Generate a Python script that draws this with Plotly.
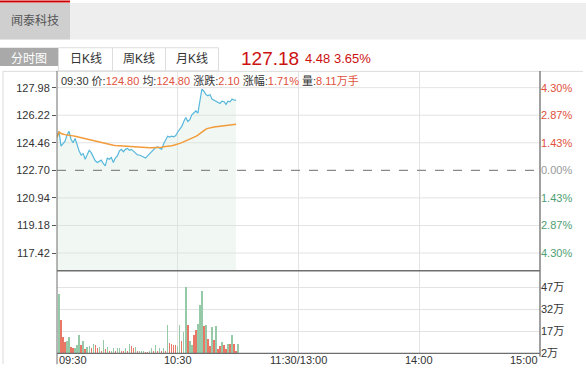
import plotly.graph_objects as go

W, H = 586, 387

# ---------------- data ----------------
stock_name = "闻泰科技"
tabs = ["分时图", "日K线", "周K线", "月K线"]
last_price = "127.18"
change = "4.48"
change_pct = "3.65%"
prev_close = 122.70

# minute-by-minute price from 09:30 (index 0)
price = [124.88, 125.19, 124.25, 124.40, 124.56, 124.98, 125.19, 124.67, 124.46, 124.73,
         124.25, 123.94, 123.68, 123.77, 123.41, 123.68, 123.98, 123.83, 123.52, 123.31,
         123.20, 123.25, 123.35, 123.14, 122.99, 123.48, 123.41, 123.52, 123.20, 123.48,
         123.62, 123.94, 124.04, 123.89, 124.04, 124.10, 123.98, 124.04, 123.94, 123.83,
         123.68, 123.68, 123.60, 123.56, 123.48, 123.62, 123.77, 123.89, 124.04, 124.15,
         124.19, 124.10, 124.04, 124.40, 124.67, 124.88, 124.82, 124.88, 124.84, 124.92,
         125.15, 125.30, 125.51, 125.82, 126.07, 125.82, 125.93, 126.24, 126.35, 126.49,
         126.35, 127.18, 127.88, 127.75, 127.54, 127.46, 127.54, 127.25, 127.18, 127.12,
         127.08, 126.97, 127.12, 127.08, 126.91, 127.12, 127.08, 127.25, 127.18, 127.18]

avg_price = [124.80, 125.15, 125.05, 125.00, 124.98, 124.96, 124.95, 124.93, 124.90, 124.87,
             124.84, 124.80, 124.77, 124.74, 124.70, 124.67, 124.64, 124.61, 124.58, 124.55,
             124.50, 124.47, 124.44, 124.41, 124.38, 124.36, 124.34, 124.32, 124.30, 124.28,
             124.27, 124.26, 124.25, 124.25, 124.24, 124.23, 124.22, 124.21, 124.20, 124.19,
             124.18, 124.17, 124.16, 124.16, 124.15, 124.15, 124.15, 124.15, 124.15, 124.15,
             124.16, 124.17, 124.18, 124.20, 124.21, 124.23, 124.25, 124.27, 124.30, 124.33,
             124.37, 124.42, 124.47, 124.52, 124.57, 124.62, 124.68, 124.74, 124.80, 124.87,
             124.95, 125.05, 125.15, 125.25, 125.33, 125.38, 125.42, 125.45, 125.47, 125.49,
             125.51, 125.52, 125.54, 125.55, 125.56, 125.58, 125.60, 125.62, 125.63, 125.65]

# volume per minute (万手), and direction (1 = up/red, 0 = down/green)
volume = [42.7, 24.8, 13.0, 9.6, 10.7, 13.0, 6.3, 5.4, 5.4, 8.0,
          14.8, 7.6, 10.3, 4.7, 6.3, 6.9, 5.4, 8.5, 7.6, 5.8,
          6.3, 4.0, 11.4, 4.7, 6.3, 3.6, 4.0, 5.8, 4.0, 5.8,
          5.4, 4.0, 4.0, 5.4, 3.6, 8.5, 6.9, 5.8, 6.3, 4.0,
          3.6, 3.6, 3.6, 3.1, 3.1, 3.6, 5.4, 4.0, 8.0, 4.0,
          5.4, 4.0, 5.4, 4.0, 21.5, 9.2, 8.7, 8.0, 7.6, 6.9,
          21.5, 10.7, 16.5, 47.2, 21.5, 10.3, 8.0, 14.8, 18.1, 21.9,
          34.9, 44.3, 21.0, 21.5, 12.1, 6.9, 20.3, 11.4, 21.0, 4.7,
          6.9, 9.8, 7.6, 4.7, 8.5, 8.5, 14.8, 8.5, 4.0, 8.5]
direction = [0, 1, 1, 1, 0, 0, 1, 1, 0, 0,
             0, 1, 0, 1, 0, 0, 1, 0, 1, 1,
             0, 1, 0, 1, 0, 1, 0, 0, 1, 0,
             0, 1, 1, 0, 1, 0, 1, 1, 0, 1,
             0, 0, 0, 1, 1, 0, 0, 1, 0, 1,
             0, 1, 0, 1, 0, 1, 1, 1, 1, 0,
             0, 1, 0, 0, 1, 0, 0, 1, 1, 0,
             0, 0, 1, 0, 1, 1, 0, 1, 0, 1,
             1, 0, 1, 1, 0, 1, 0, 1, 1, 0]

price_ticks = [117.42, 119.18, 120.94, 122.70, 124.46, 126.22, 127.98]
pct_labels = ["4.30%", "2.87%", "1.43%", "0.00%", "1.43%", "2.87%", "4.30%"]
vol_ticks = [2, 17, 32, 47]
vol_labels = ["2万", "17万", "32万", "47万"]
time_ticks = [0, 60, 120, 180, 240]
time_labels = ["09:30", "10:30", "11:30/13:00", "14:00", "15:00"]

stats = [("09:30", None), ("价:", "124.80"), ("均:", "124.80"), ("涨跌:", "2.10"),
         ("涨幅:", "1.71%"), ("量:", "8.11万手")]

# ---------------- styling ----------------
RED = "#e0503c"
GREEN = "#4f9e74"
GRAY_TXT = "#333333"
FONT = "Liberation Sans, Noto Sans CJK SC, sans-serif"

def px(x):
    return x / W

def py(y):
    return 1 - y / H

minutes = list(range(len(price)))
bar_x = [m + 1 for m in minutes]
bar_colors = ["#ea7766" if d else "#95c9a8" for d in direction]

fig = go.Figure()

fig.add_trace(go.Scatter(x=minutes, y=price, mode="lines", fill="tozeroy",
                         fillcolor="rgba(212,234,218,0.33)",
                         line=dict(color="#58b8dc", width=1.2), hoverinfo="skip",
                         xaxis="x", yaxis="y"))
fig.add_trace(go.Scatter(x=minutes, y=avg_price, mode="lines",
                         line=dict(color="#f29b3a", width=1.5), hoverinfo="skip",
                         xaxis="x", yaxis="y"))
fig.add_trace(go.Bar(x=bar_x, y=volume, marker=dict(color=bar_colors, line=dict(width=0)),
                     width=0.7, hoverinfo="skip", xaxis="x2", yaxis="y2"))

x_dom = [px(57), px(540)]
main_dom = [py(275), py(72)]
vol_dom = [py(359), py(275)]
p_range = [116.29, 129.05]

shapes = []
# top tab band
shapes.append(dict(type="rect", xref="paper", yref="paper", x0=0, x1=1, y0=py(40), y1=py(3),
                   fillcolor="#eeeeee", line=dict(width=0), layer="below"))
shapes.append(dict(type="rect", xref="paper", yref="paper", x0=0, x1=px(70), y0=py(40), y1=py(3),
                   fillcolor="#cfcfcf", line=dict(width=0), layer="below"))
shapes.append(dict(type="rect", xref="paper", yref="paper", x0=0, x1=px(70), y0=py(2.5), y1=py(0.5),
                   fillcolor="#cc0000", line=dict(width=0), layer="below"))
# tabs
tab_edges = [(0, 58), (58.5, 112.5), (112.5, 165.5), (165.5, 218.5)]
for i, (a, b) in enumerate(tab_edges):
    if i == 0:
        shapes.append(dict(type="rect", xref="paper", yref="paper", x0=px(a), x1=px(b),
                           y0=py(67), y1=py(48.5), fillcolor="#a9a9a9", line=dict(width=0),
                           layer="below"))
    else:
        shapes.append(dict(type="rect", xref="paper", yref="paper", x0=px(a), x1=px(b),
                           y0=py(72), y1=py(48.5), fillcolor="#ffffff",
                           line=dict(width=1, color="#dddddd"), layer="below"))
# horizontal price gridlines (except the prev close dashed one)
for t in price_ticks:
    if abs(t - prev_close) > 1e-6:
        shapes.append(dict(type="line", xref="x", yref="y", x0=0, x1=240, y0=t, y1=t,
                           line=dict(color="#e3e3e3", width=1), layer="below"))
shapes.append(dict(type="line", xref="x", yref="y", x0=0, x1=240, y0=prev_close, y1=prev_close,
                   line=dict(color="#8a8a8a", width=1.2, dash="dash"), layer="above"))
# frame lines
shapes.append(dict(type="line", xref="paper", yref="paper", x0=px(3), x1=px(583), y0=py(72.5), y1=py(72.5),
                   line=dict(color="#dcdcdc", width=1)))
shapes.append(dict(type="line", xref="paper", yref="paper", x0=px(3), x1=px(3), y0=py(72), y1=py(370),
                   line=dict(color="#dcdcdc", width=1)))
shapes.append(dict(type="line", xref="paper", yref="paper", x0=px(57), x1=px(57), y0=py(72), y1=py(370),
                   line=dict(color="#6e6e6e", width=1)))
shapes.append(dict(type="line", xref="paper", yref="paper", x0=px(540), x1=px(540), y0=py(72), y1=py(362),
                   line=dict(color="#6e6e6e", width=1.3)))
shapes.append(dict(type="line", xref="paper", yref="paper", x0=px(57), x1=px(540), y0=py(275), y1=py(275),
                   line=dict(color="#6e6e6e", width=1.3)))
shapes.append(dict(type="line", xref="paper", yref="paper", x0=px(57), x1=px(540), y0=py(359), y1=py(359),
                   line=dict(color="#6e6e6e", width=1.3)))

annotations = []
annotations.append(dict(xref="paper", yref="paper", x=px(35), y=py(21), text=stock_name,
                        showarrow=False, font=dict(size=12, color="#555555", family=FONT),
                        xanchor="center", yanchor="middle"))
tab_centers = [29, 85.5, 139, 192]
for i, (t, c) in enumerate(zip(tabs, tab_centers)):
    annotations.append(dict(xref="paper", yref="paper", x=px(c), y=py(60), text=t,
                            showarrow=False,
                            font=dict(size=12, color="#ffffff" if i == 0 else "#333333", family=FONT),
                            xanchor="center", yanchor="middle"))
annotations.append(dict(xref="paper", yref="paper", x=px(239), y=py(59), text=last_price,
                        showarrow=False, font=dict(size=19, color="#cc1111", family=FONT),
                        xanchor="left", yanchor="middle"))
annotations.append(dict(xref="paper", yref="paper", x=px(303), y=py(59),
                        text=f"{change} {change_pct}", showarrow=False,
                        font=dict(size=13, color="#cc1111", family=FONT),
                        xanchor="left", yanchor="middle"))
stat_parts = []
for lab, val in stats:
    if val is None:
        stat_parts.append(f"<span style='color:{GRAY_TXT}'>{lab}</span>")
    else:
        stat_parts.append(f"<span style='color:{GRAY_TXT}'>{lab}</span><span style='color:{RED}'>{val}</span>")
annotations.append(dict(xref="paper", yref="paper", x=px(59), y=py(82),
                        text=" ".join(stat_parts), showarrow=False,
                        font=dict(size=11, family=FONT), xanchor="left", yanchor="middle"))
# time labels
anchors = ["left", "center", "center", "center", "right"]
for t, lab, a in zip(time_ticks, time_labels, anchors):
    annotations.append(dict(xref="x2", yref="paper", x=t, y=py(366), text=lab, showarrow=False,
                            font=dict(size=11, color=GRAY_TXT, family=FONT),
                            xanchor=a, yanchor="middle"))

pct_text = []
for t, lab in zip(price_ticks, pct_labels):
    if t > prev_close + 1e-6:
        col = RED
    elif t < prev_close - 1e-6:
        col = GREEN
    else:
        col = "#999999"
    pct_text.append(f"<span style='color:{col}'>{lab}</span>")

fig.update_layout(
    width=W, height=H, autosize=False,
    margin=dict(l=0, r=0, t=0, b=0),
    paper_bgcolor="#ffffff", plot_bgcolor="rgba(0,0,0,0)",
    showlegend=False, bargap=0,
    font=dict(family=FONT, size=11, color=GRAY_TXT),
    xaxis=dict(domain=x_dom, range=[0, 240], anchor="y", tickvals=[60, 120, 180],
               showticklabels=False, showgrid=True, gridcolor="#e3e3e3", gridwidth=1,
               zeroline=False, showline=False, ticks=""),
    xaxis2=dict(domain=x_dom, range=[0, 240], anchor="y2", tickvals=[60, 120, 180],
                showticklabels=False, showgrid=True, gridcolor="#e3e3e3", gridwidth=1,
                zeroline=False, showline=False, ticks=""),
    yaxis=dict(domain=main_dom, range=p_range, anchor="x", tickvals=price_ticks,
               ticktext=[f"{t:.2f}" for t in price_ticks], showgrid=False, zeroline=False,
               showline=False, ticks="outside", ticklen=4, tickcolor="#555555",
               tickfont=dict(size=11, color=GRAY_TXT, family=FONT)),
    yaxis3=dict(overlaying="y", side="right", range=p_range, anchor="x", tickvals=price_ticks,
                ticktext=pct_text, showgrid=False, zeroline=False, showline=False, ticks="",
                tickfont=dict(size=11, family=FONT)),
    yaxis2=dict(domain=vol_dom, range=[2, 58.4], anchor="x2", side="right", tickvals=vol_ticks,
                ticktext=vol_labels, showgrid=True, gridcolor="#e3e3e3", zeroline=False,
                showline=False, ticks="", tickfont=dict(size=11, color=GRAY_TXT, family=FONT)),
    shapes=shapes, annotations=annotations,
)
# invisible point so the percent axis renders
fig.add_trace(go.Scatter(x=[0], y=[prev_close], mode="markers", marker=dict(opacity=0),
                         hoverinfo="skip", xaxis="x", yaxis="y3"))

fig.write_html(
    "out.html",
    config={"displayModeBar": False, "responsive": False, "staticPlot": True},
    post_script=("document.documentElement.style.margin='0px';"
                 "document.body.style.margin='0px';"
                 "document.body.style.padding='0px';"
                 "document.body.style.overflow='hidden';"),
)
